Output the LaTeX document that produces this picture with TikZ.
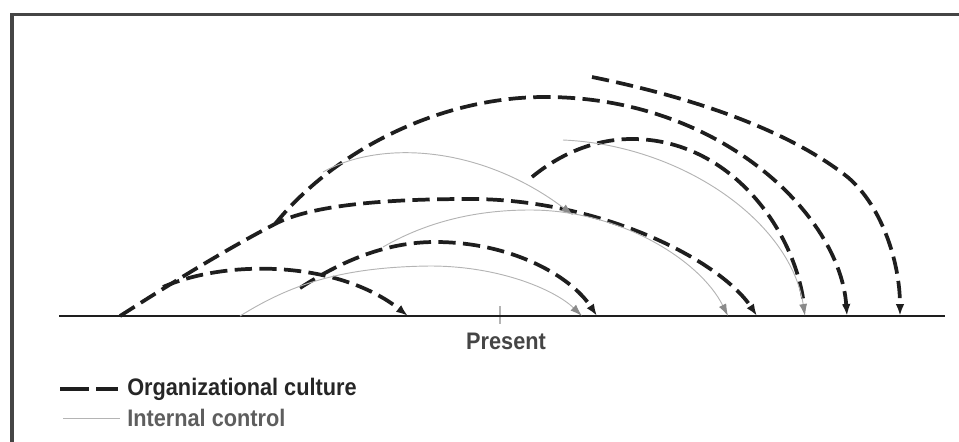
\documentclass[tikz,border=0pt]{standalone}
\usepackage{fontspec}
\setmainfont{Liberation Sans}
\usetikzlibrary{arrows.meta}
\definecolor{frameC}{HTML}{454545}
\definecolor{cultC}{HTML}{1E1E1E}
\definecolor{ctrlC}{HTML}{B4B4B4}
\definecolor{ctrlTip}{HTML}{8A8A8A}
\definecolor{presC}{HTML}{454545}
\definecolor{legC}{HTML}{262626}
\definecolor{leg2C}{HTML}{5E5E5E}
\newcommand{\tallbf}[1]{\scalebox{1}[1.1]{\bfseries #1}}
\begin{document}
\begin{tikzpicture}[x=0.75pt,y=-0.75pt,
  culture/.style={line width=2.8pt, dash pattern=on 13pt off 5.5pt, color=cultC},
  control/.style={line width=0.7pt, color=ctrlC},
  btip/.style={-{Latex[length=9pt,width=6.5pt]}},
  gtip/.style={-{Latex[length=9pt,width=6pt,color=ctrlTip]}},
  lbl/.style={font=\fontsize{16.3}{19}\selectfont, inner sep=0pt, anchor=west},
]
\useasboundingbox (0,0) rectangle (959,442);
% frame
\draw[line width=3pt, frameC] (12,442) -- (12,13);
\draw[line width=2.25pt, frameC] (10.5,14.5) -- (959,14.5);
% axis
\coordinate (axL) at (59,316);
\coordinate (axR) at (945,316);
\coordinate (tkT) at (500,306);
\coordinate (tkB) at (500,324);
\draw[line width=0.8pt, ctrlC] (tkT) -- (tkB);
\draw[line width=2.2pt, cultC] (axL) -- (axR);
\node[font=\fontsize{16.3}{19}\selectfont, text=presC, inner sep=0pt] (present) at (506,341) {\tallbf{Present}};
% endpoints
\coordinate (cS) at (120,316); \coordinate (cE) at (757,316);
\coordinate (aS) at (163,287); \coordinate (aE) at (408,316);
\coordinate (bS) at (275,224); \coordinate (bE) at (847,316);
\coordinate (dS) at (592,77);  \coordinate (dE) at (900,316);
\coordinate (eS) at (532,177); \coordinate (eE) at (804,305);
\coordinate (fS) at (300,288); \coordinate (fE) at (597,316);
\coordinate (g1S) at (323,172); \coordinate (g1E) at (573,215);
\coordinate (g2S) at (383,247); \coordinate (g2E) at (728,316);
\coordinate (g3S) at (240,316); \coordinate (g3E) at (582,316);
\coordinate (g4S) at (563,140); \coordinate (g4E) at (805,316);
% organizational culture arcs
\draw[culture, btip] (cS) .. controls (170,284) and (225,250) .. (bS)
   .. controls (315,203) and (400,199) .. (470,199)
   .. controls (600,199) and (720,260) .. (cE);
\draw[culture, btip] (aS) .. controls (230,258) and (340,262) .. (aE);
\draw[culture, btip] (bS) .. controls (335,150) and (440,97) .. (545,97)
   .. controls (720,97) and (840,215) .. (bE);
\draw[culture, btip] (dS) .. controls (680,95) and (780,125) .. (845,175)
   .. controls (880,202) and (900,260) .. (dE);
\draw[culture] (eS) .. controls (565,150) and (600,139) .. (632,139)
   .. controls (730,139) and (795,230) .. (eE);
\draw[culture, btip] (fS) .. controls (340,262) and (385,242) .. (435,242)
   .. controls (510,242) and (570,275) .. (fE);
% internal control arcs
\draw[control, gtip] (g1S) .. controls (380,140) and (480,145) .. (g1E);
\draw[control, gtip] (g2S) .. controls (430,220) and (480,210) .. (530,210)
   .. controls (620,210) and (700,260) .. (g2E);
\draw[control, gtip] (g3S) .. controls (290,285) and (340,267) .. (430,266)
   .. controls (500,266) and (555,290) .. (g3E);
\draw[control, gtip] (g4S) .. controls (680,145) and (790,220) .. (g4E);
% legend
\coordinate (l1a) at (60,389); \coordinate (l1b) at (118,389);
\coordinate (l2a) at (63,418); \coordinate (l2b) at (120,418);
\draw[line width=2.8pt, cultC, dash pattern=on 22pt off 5pt] (l1a) -- (l1b);
\draw[control] (l2a) -- (l2b);
\node[lbl, text=legC] (leg1) at (127,389) {\tallbf{Organizational culture}};
\node[lbl, text=leg2C] (leg2) at (127,418) {\tallbf{Internal control}};
\end{tikzpicture}
\end{document}
